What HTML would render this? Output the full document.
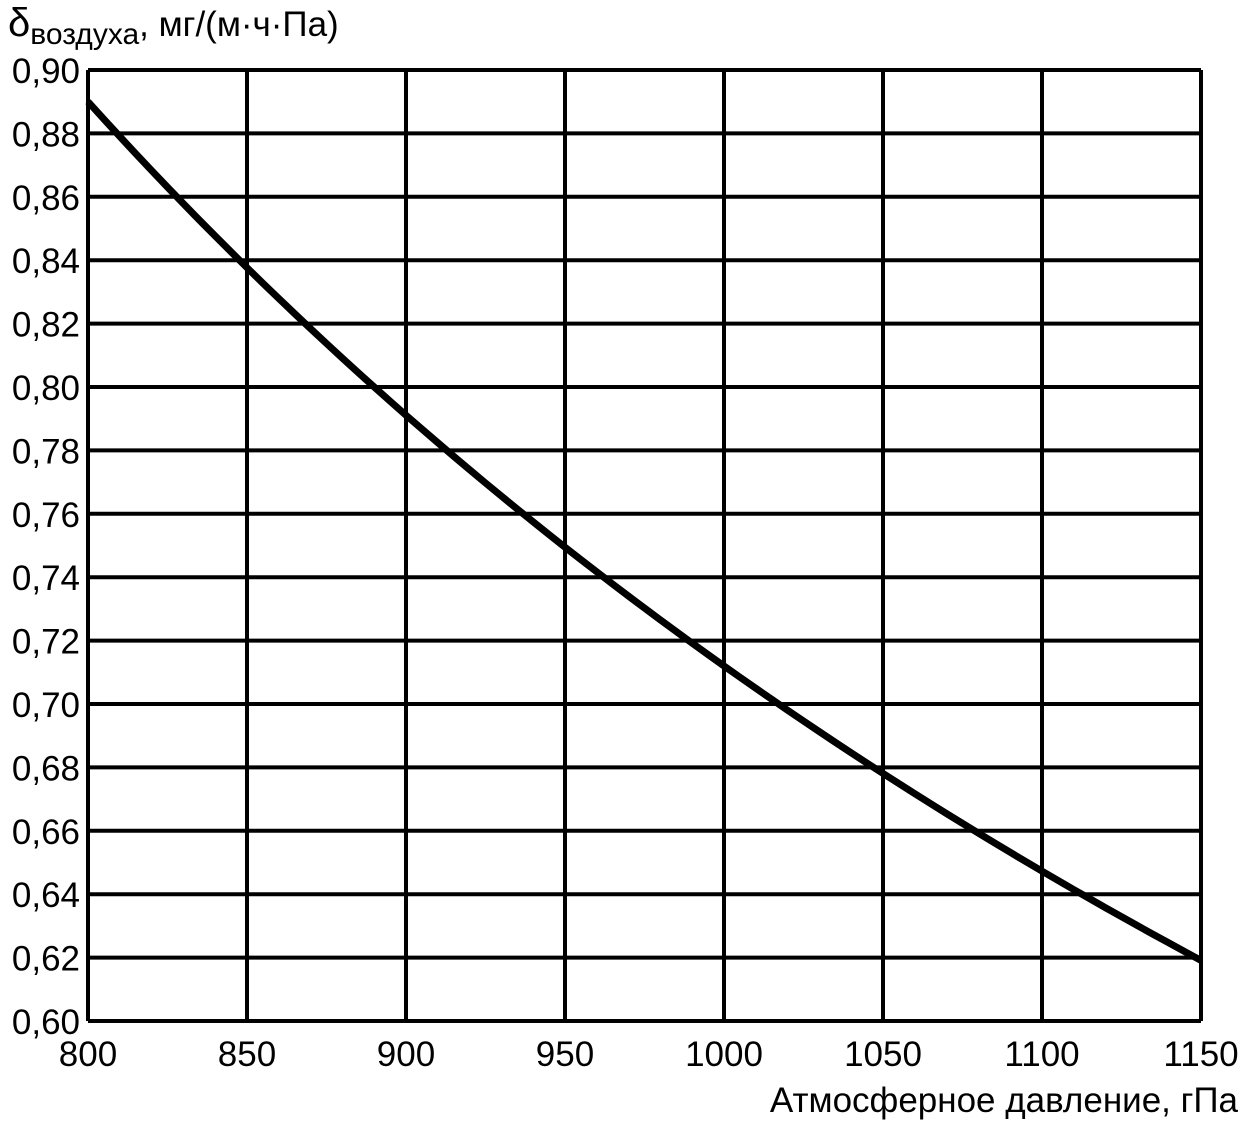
<!DOCTYPE html>
<html><head><meta charset="utf-8"><style>
body{margin:0;background:#fff;}
svg{display:block;font-family:"Liberation Sans",sans-serif;}
</style></head><body>
<svg id="s" width="1243" height="1122" viewBox="0 0 1243 1122" xmlns="http://www.w3.org/2000/svg">
<g id="grid" stroke="#000" stroke-width="4" fill="none"></g>
<path id="curve" fill="none" stroke="#000" stroke-width="7" stroke-linejoin="round"/>
<g id="lbl" font-size="35" fill="#000"></g>
<text x="8" y="36" font-size="40" fill="#000">δ<tspan font-size="30" dy="8">воздуха</tspan><tspan dy="-8" font-size="35">, мг/(м·ч·Па)</tspan></text>
<text x="1238" y="1112" font-size="35" text-anchor="end" fill="#000">Атмосферное давление, гПа</text>
</svg>
<script>
var L=88,R=1201,T=70,B=1021,ns="http://www.w3.org/2000/svg";
function X(p){return L+(p-800)/350*(R-L);}
function Y(v){return T+(0.90-v)/0.30*(B-T);}
var g=document.getElementById('grid'),lb=document.getElementById('lbl');
function el(n,a,p){var e=document.createElementNS(ns,n);for(var k in a)e.setAttribute(k,a[k]);p.appendChild(e);return e;}
for(var p=800;p<=1150;p+=50){var x=X(p);el('line',{x1:x,y1:T,x2:x,y2:B},g);
 var t=el('text',{x:x,y:1066,'text-anchor':'middle'},lb);t.textContent=p;}
for(var i=0;i<=15;i++){var v=0.60+i*0.02,y=Y(v);el('line',{x1:L,y1:y,x2:R,y2:y},g);
 var t=el('text',{x:80,y:y+13,'text-anchor':'end'},lb);t.textContent=v.toFixed(2).replace('.',',');}
var d='';for(var p=800;p<=1150;p+=5){d+=(p==800?'M':'L')+X(p).toFixed(1)+','+Y(712/p).toFixed(1);}
document.getElementById('curve').setAttribute('d',d);
</script>
</body></html>
